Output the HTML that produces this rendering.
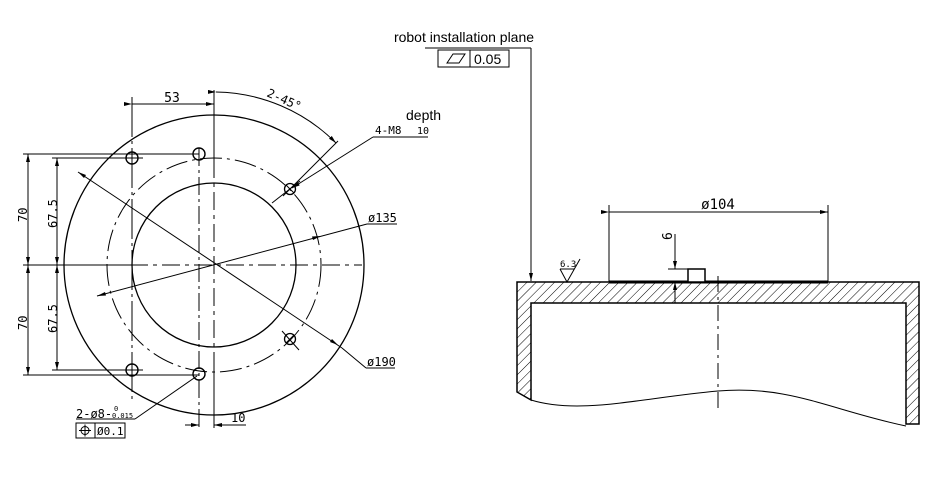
<!DOCTYPE html>
<html><head><meta charset="utf-8"><style>
html,body{margin:0;padding:0;background:#fff;}
svg{display:block;}
text{font-family:"Liberation Sans",sans-serif;fill:#000;}
.m{font-family:"DejaVu Sans Mono","Liberation Mono",monospace;}
</style></head><body>
<svg width="948" height="494" viewBox="0 0 948 494" xmlns="http://www.w3.org/2000/svg">
<defs>
<marker id="a" markerWidth="8" markerHeight="4" refX="8" refY="2" orient="auto" markerUnits="userSpaceOnUse"><path d="M0,0 L8,2 L0,4z" fill="#000"/></marker>
<pattern id="h" width="6.5" height="6.5" patternUnits="userSpaceOnUse" patternTransform="rotate(45)"><line x1="0" y1="0" x2="0" y2="6.5" stroke="#000" stroke-width="1"/></pattern>
</defs>
<g fill="none" stroke="#000" stroke-width="1">
<circle cx="214" cy="265" r="150" stroke-width="1.3"/>
<circle cx="214" cy="265" r="107" stroke-dasharray="22,5,3,5"/>
<circle cx="214" cy="265" r="82" stroke-width="1.3"/>
<line x1="23" y1="265" x2="130" y2="265"/>
<line x1="130" y1="265" x2="362" y2="265" stroke-dasharray="18,5,4,5"/>
<line x1="214" y1="90" x2="214" y2="160"/>
<line x1="214" y1="160" x2="214" y2="370" stroke-dasharray="18,5,4,5"/>
<line x1="214" y1="370" x2="214" y2="428"/>
<line x1="199" y1="148" x2="199" y2="428" stroke-dasharray="18,4,3,4"/>
<line x1="132" y1="97" x2="132" y2="400" stroke-dasharray="40,4,3,4"/>
<circle cx="132" cy="158" r="6" stroke-width="1.4"/>
<circle cx="199" cy="154" r="6" stroke-width="1.4"/>
<circle cx="132" cy="370" r="6" stroke-width="1.4"/>
<circle cx="199" cy="374" r="6" stroke-width="1.4"/>
<circle cx="290" cy="189" r="5.5" stroke-width="1.3"/>
<circle cx="290" cy="339" r="5.5" stroke-width="1.3"/>
<line x1="286" y1="185" x2="294" y2="193"/>
<line x1="286" y1="343" x2="294" y2="335"/>
<line x1="272" y1="203" x2="300" y2="181"/>
<line x1="282" y1="331" x2="299" y2="350"/>
<line x1="23" y1="154" x2="199" y2="154"/>
<line x1="52" y1="158" x2="143" y2="158"/>
<line x1="52" y1="370" x2="143" y2="370"/>
<line x1="23" y1="375" x2="199" y2="375"/>
<line x1="28" y1="154" x2="28" y2="375"/>
<line x1="57" y1="158" x2="57" y2="370"/>
<path d="M28,154 l-2,8 h4z M28,265 l-2,-8 h4z M28,265 l-2,8 h4z M28,375 l-2,-8 h4z M57,158 l-2,8 h4z M57,265 l-2,-8 h4z M57,265 l-2,8 h4z M57,370 l-2,-8 h4z" fill="#000" stroke="none"/>
<line x1="132" y1="104" x2="214" y2="104" marker-start="url(#a)" marker-end="url(#a)"/>
<path d="M216,92 A173,173 0 0 1 336,143" marker-start="url(#a)" marker-end="url(#a)"/>
<line x1="338" y1="141" x2="283" y2="196"/>
<line x1="373" y1="137" x2="292" y2="188" marker-end="url(#a)"/>
<line x1="373" y1="137" x2="428" y2="137"/>
<line x1="97" y1="296" x2="367" y2="224"/>
<path d="M97,296 l8,-4 l1,3.5z M321,236 l-8,4 l-1,-3.5z" fill="#000" stroke="none"/>
<line x1="367" y1="224" x2="397" y2="224"/>
<line x1="78" y1="172" x2="342" y2="348"/>
<line x1="342" y1="348" x2="366" y2="368"/>
<path d="M78,172 l8,3 l-2,3z M338,345 l-8,-3 l2,-3z" fill="#000" stroke="none"/>
<line x1="366" y1="368" x2="395" y2="368"/>
<line x1="135" y1="419" x2="197" y2="376"/>
<line x1="76" y1="419" x2="135" y2="419"/>
<rect x="76" y="423" width="49" height="15"/>
<line x1="95" y1="423" x2="95" y2="438"/>
<circle cx="85" cy="430.5" r="4"/>
<line x1="79" y1="430.5" x2="91" y2="430.5"/>
<line x1="85" y1="424.5" x2="85" y2="436.5"/>
<line x1="185" y1="425" x2="199" y2="425" marker-end="url(#a)"/>
<line x1="228" y1="425" x2="214" y2="425" marker-end="url(#a)"/>
<line x1="214" y1="425" x2="246" y2="425"/>

<line x1="425" y1="48" x2="531" y2="48"/>
<line x1="531" y1="48" x2="531" y2="281" marker-end="url(#a)"/>
<rect x="438" y="50" width="71" height="17"/>
<line x1="470" y1="50" x2="470" y2="67"/>
<path d="M447,63 L453,54 H465 L459,63z"/>
<path d="M517,282 H919 V424 H906 V303 H531 V400 L517,392z" fill="url(#h)" stroke="#000" stroke-width="1.5"/>
<path d="M531,400 C580,415 640,398 718,391 C790,385 830,410 906,426" />
<line x1="609" y1="282" x2="828" y2="282" stroke-width="3"/>
<line x1="718" y1="276" x2="718" y2="410" stroke-dasharray="16,5,3,5"/>
<line x1="609" y1="205" x2="609" y2="282"/>
<line x1="828" y1="205" x2="828" y2="282"/>
<line x1="609" y1="212" x2="828" y2="212" marker-start="url(#a)" marker-end="url(#a)"/>
<rect x="688" y="269" width="17" height="13" fill="#fff" stroke-width="1.5"/>
<line x1="668" y1="269" x2="705" y2="269"/>
<line x1="675" y1="234" x2="675" y2="269" marker-end="url(#a)"/>
<line x1="675" y1="282" x2="675" y2="303"/>
<path d="M675,282 l-2,8 h4z" fill="#000" stroke="none"/>
<path d="M560,269 L567,282 L580,259"/>
<line x1="560" y1="269" x2="574" y2="269"/>
</g>
<text x="172" y="102" font-size="13" text-anchor="middle" class="m">53</text>
<text x="0" y="0" font-size="12" class="m" transform="translate(266,96) rotate(24)">2-45°</text>
<text x="406" y="120" font-size="14">depth</text>
<text x="375" y="134" font-size="11" class="m">4-M8</text>
<text x="417" y="134" font-size="10" class="m">10</text>
<text x="368" y="222" font-size="12" class="m">ø135</text>
<text x="367" y="366" font-size="12" class="m">ø190</text>
<text x="0" y="0" font-size="12" class="m" transform="translate(27,222) rotate(-90)">70</text>
<text x="0" y="0" font-size="12" class="m" transform="translate(27,330) rotate(-90)">70</text>
<text x="0" y="0" font-size="12" class="m" transform="translate(57,228) rotate(-90)">67.5</text>
<text x="0" y="0" font-size="12" class="m" transform="translate(57,333) rotate(-90)">67.5</text>
<text x="76" y="418" font-size="12" class="m">2-ø8-</text>
<text x="112" y="418" font-size="7" class="m">0.015</text>
<text x="114" y="411" font-size="7" class="m">0</text>
<text x="97" y="435" font-size="11" class="m">Ø0.1</text>
<text x="231" y="422" font-size="12" class="m">10</text>
<text x="464" y="42" font-size="14" text-anchor="middle">robot installation plane</text>
<text x="474" y="64" font-size="14">0.05</text>
<text x="718" y="209" font-size="14" text-anchor="middle" class="m">ø104</text>
<text x="0" y="0" font-size="13" class="m" transform="translate(672,240) rotate(-90)">6</text>
<text x="560" y="267" font-size="9" class="m">6.3</text>
</svg>
</body></html>
